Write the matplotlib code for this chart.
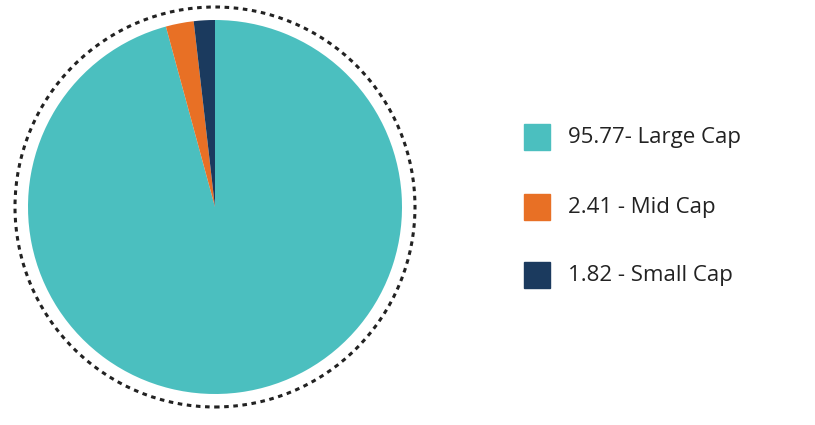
import matplotlib.pyplot as plt
from matplotlib.patches import Rectangle, Circle

labels = ["95.77- Large Cap", "2.41 - Mid Cap", "1.82 - Small Cap"]
values = [95.77, 2.41, 1.82]
colors = ["#4BBFBF", "#E87025", "#1B3A5E"]

W, H = 815, 425
fig = plt.figure(figsize=(W / 100, H / 100), dpi=100)

# pie: centre (215, 207) px, radius 187 px
r_px = 187
half = 1.1 * r_px
ax = fig.add_axes([(215 - half) / W, (H - 207 - half) / H, 2 * half / W, 2 * half / H])
ax.pie(values, colors=colors, startangle=90, counterclock=False, radius=1)
ax.add_patch(Circle((0, 0), 200 / r_px, fill=False, ls=(0, (1.5, 1.5)), lw=2.2, color="#222222"))
ax.set_xlim(-1.1, 1.1)
ax.set_ylim(-1.1, 1.1)
ax.set_aspect("equal")
ax.axis("off")

# legend
ys = [137, 207, 275]
for lab, c, y in zip(labels, colors, ys):
    fig.patches.append(Rectangle((524 / W, (H - y - 13) / H), 26 / W, 26 / H,
                                 transform=fig.transFigure, color=c))
    fig.text(568 / W, (H - y) / H, lab, fontsize=16, color="#222222",
             va="center", ha="left", family="Open Sans")

fig.savefig("out.png", dpi=100)
